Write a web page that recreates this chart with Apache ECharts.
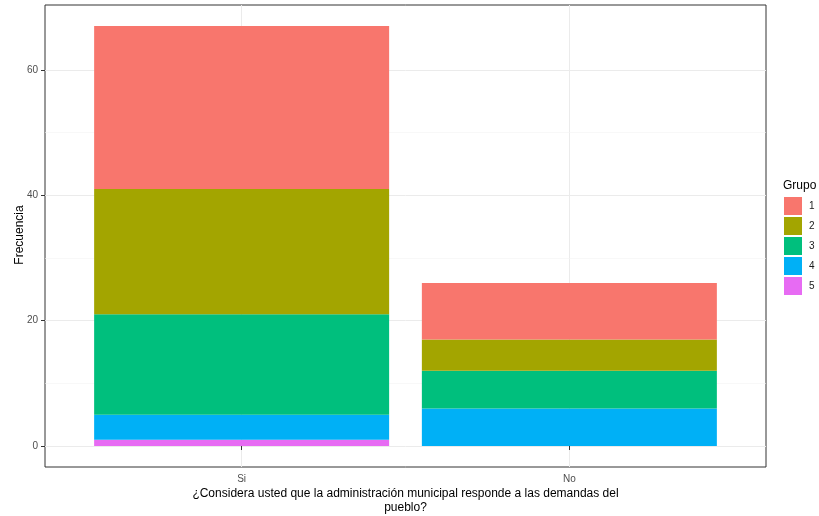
<!DOCTYPE html>
<html>
<head>
<meta charset="utf-8">
<script src="https://cdn.jsdelivr.net/npm/echarts@6/dist/echarts.min.js"></script>
<style>html,body{margin:0;padding:0;background:#fff}#c{width:819px;height:516px}</style>
</head>
<body>
<div id="c"></div>
<script>
const categories = ['Si', 'No'];
const groups = ['1', '2', '3', '4', '5'];
const colors = ['#F8766D', '#A3A500', '#00BF7D', '#00B0F6', '#E76BF3'];
const grupo1 = [26, 9];
const grupo2 = [20, 5];
const grupo3 = [16, 6];
const grupo4 = [4, 6];
const grupo5 = [1, 0];
const yTicks = [0, 20, 40, 60];
const yMinor = [10, 30, 50];
const values = [grupo1, grupo2, grupo3, grupo4, grupo5];

const font = 'Liberation Sans, Arial, sans-serif';
const chart = echarts.init(document.getElementById('c'), null, {renderer: 'canvas'});

const series = [];
for (let g = groups.length - 1; g >= 0; g--) {
  series.push({
    name: groups[g],
    type: 'bar',
    stack: 'total',
    barWidth: 295,
    itemStyle: {color: colors[g]},
    emphasis: {disabled: true},
    encode: {x: 1, y: 0},
    data: categories.map((c, i) => [values[g][i], i + 1])
  });
}
// minor grid lines
series.push({
  type: 'line', data: [], silent: true, z: 0,
  markLine: {
    silent: true, symbol: 'none', label: {show: false}, z: 0,
    lineStyle: {color: '#f4f4f4', width: 0.6, type: 'solid'},
    data: yMinor.map(v => ({yAxis: v}))
  }
});

chart.setOption({
  animation: false,
  backgroundColor: '#fff',
  textStyle: {fontFamily: font},
  grid: {left: 45, top: 5, right: 53, bottom: 49, show: true, borderColor: '#333333', borderWidth: 1, backgroundColor: 'transparent'},
  legend: {
    orient: 'vertical', left: 784, top: 197, padding: 0,
    itemWidth: 18, itemHeight: 18, itemGap: 2,
    icon: 'rect', selectedMode: false,
    data: groups,
    textStyle: {fontSize: 10, color: '#1a1a1a', fontFamily: font, padding: [0, 0, 0, 2]}
  },
  xAxis: {
    type: 'value', min: 0.4, max: 2.6,
    axisLine: {show: false},
    axisTick: {show: true, length: 4, lineStyle: {color: '#333333'}, customValues: [1, 2]},
    axisLabel: {customValues: [1, 2], formatter: v => categories[Math.round(v) - 1] || '', color: '#4d4d4d', fontSize: 10, margin: 7, fontFamily: font},
    splitLine: {show: true, lineStyle: {color: '#ebebeb', width: 1}}
  },
  yAxis: {
    type: 'value', min: -3.35, max: 70.35,
    axisLine: {show: false},
    axisTick: {show: true, length: 4, lineStyle: {color: '#333333'}, customValues: yTicks},
    axisLabel: {customValues: yTicks, color: '#4d4d4d', fontSize: 10, margin: 7, fontFamily: font},
    splitLine: {show: true, lineStyle: {color: '#ebebeb', width: 1}}
  },
  graphic: [
    {type: 'text', left: 783, top: 180, style: {text: 'Grupo', fontSize: 12, fill: '#000', fontFamily: font}},
    {type: 'text', x: 19.5, y: 235, rotation: Math.PI / 2, style: {text: 'Frecuencia', fontSize: 12, fill: '#000', fontFamily: font, align: 'center', verticalAlign: 'middle'}},
    {type: 'text', x: 405.5, y: 487, style: {text: '¿Considera usted que la administración municipal responde a las demandas del\npueblo?', fontSize: 12, lineHeight: 13.5, fill: '#000', fontFamily: font, align: 'center', verticalAlign: 'top'}}
  ],
  series: series
});
</script>
</body>
</html>
